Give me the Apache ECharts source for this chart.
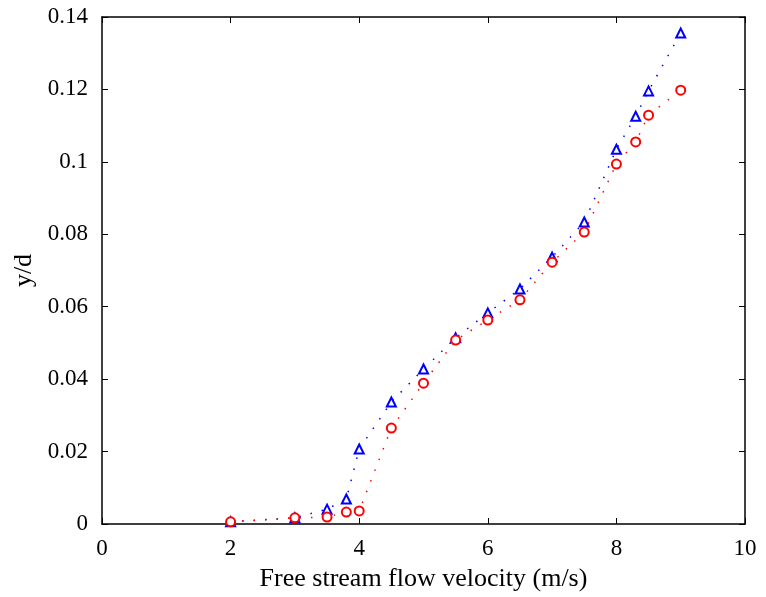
<!DOCTYPE html>
<html>
<head>
<meta charset="utf-8">
<script src="https://cdn.jsdelivr.net/npm/echarts@6/dist/echarts.min.js"></script>
<style>
  html, body { margin: 0; padding: 0; background: #fff; }
  #chart { width: 766px; height: 597px; }
</style>
</head>
<body>
<div id="chart"></div>
<script>
// free stream velocity (m/s)
const velocity = [2, 3, 3.5, 3.8, 4, 4.5, 5, 5.5, 6, 6.5, 7, 7.5, 8, 8.3, 8.5, 9];
// y/d, blue triangles
const ydTriangle = [0.0006, 0.0017, 0.0041, 0.0069, 0.0207, 0.0337, 0.0428, 0.0514, 0.0583, 0.0649, 0.0737, 0.0834, 0.1035, 0.1126, 0.1196, 0.1356];
// y/d, red circles
const ydCircle = [0.0006, 0.0017, 0.0019, 0.0033, 0.0036, 0.0265, 0.0389, 0.0508, 0.0563, 0.0619, 0.0723, 0.0806, 0.0994, 0.1055, 0.1129, 0.1198];

const fontFam = 'Liberation Serif';
const pair = (xs, ys) => xs.map((x, i) => [x, ys[i]]);

const tickStyle = { show: true, inside: true, length: 6, lineStyle: { color: '#000', width: 1 } };
const lineAxis = { show: true, onZero: false, lineStyle: { color: '#000', width: 1.5 } };

const chart = echarts.init(document.getElementById('chart'));
chart.setOption({
  backgroundColor: '#fff',
  animation: false,
  grid: { left: 102, right: 21, top: 17, bottom: 73, containLabel: false, outerBoundsMode: 'none' },
  xAxis: [
    {
      type: 'value', min: 0, max: 10, interval: 2,
      name: 'Free stream flow velocity (m/s)',
      nameLocation: 'middle', nameGap: 42,
      nameTextStyle: { fontFamily: fontFam, fontSize: 26, color: '#000' },
      axisLine: lineAxis, axisTick: tickStyle,
      axisLabel: { fontFamily: fontFam, fontSize: 23, color: '#000', margin: 13 },
      splitLine: { show: false }
    },
    {
      type: 'value', min: 0, max: 10, interval: 2, position: 'top',
      axisLine: lineAxis, axisTick: tickStyle,
      axisLabel: { show: false }, splitLine: { show: false }
    }
  ],
  yAxis: [
    {
      type: 'value', min: 0, max: 0.14, interval: 0.02,
      name: 'y/d', nameLocation: 'middle', nameGap: 56, nameRotate: 90,
      nameTextStyle: { fontFamily: fontFam, fontSize: 26, color: '#000' },
      axisLine: lineAxis, axisTick: tickStyle,
      axisLabel: { fontFamily: fontFam, fontSize: 23, color: '#000', margin: 14 },
      splitLine: { show: false }
    },
    {
      type: 'value', min: 0, max: 0.14, interval: 0.02, position: 'right',
      axisLine: lineAxis, axisTick: tickStyle,
      axisLabel: { show: false }, splitLine: { show: false }
    }
  ],
  series: [
    {
      name: 'triangle', type: 'line',
      data: pair(velocity, ydTriangle),
      symbol: 'emptyTriangle', symbolSize: 9,
      itemStyle: { color: '#0000ff', borderWidth: 1.2 },
      lineStyle: { color: '#0000ff', width: 1.5, type: [1.5, 10] }
    },
    {
      name: 'circle', type: 'line',
      data: pair(velocity, ydCircle),
      symbol: 'emptyCircle', symbolSize: 9,
      itemStyle: { color: '#ff0000', borderWidth: 1.2 },
      lineStyle: { color: '#ff0000', width: 1.5, type: [1.5, 10] }
    }
  ]
});
</script>
</body>
</html>
